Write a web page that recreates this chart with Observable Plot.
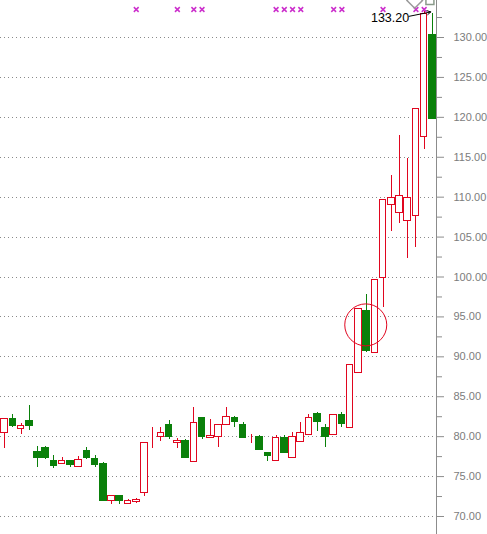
<!DOCTYPE html>
<html>
<head>
<meta charset="utf-8">
<script src="https://cdn.jsdelivr.net/npm/d3@7"></script>
<script src="https://cdn.jsdelivr.net/npm/@observablehq/plot@0.6"></script>
<style>
  html, body { margin: 0; padding: 0; background: #fff; overflow: hidden; }
  #chart svg { display: block; }
</style>
</head>
<body>
<div id="chart"></div>
<script>
// ---- data ----
const opens  = [80.5, 82.2, 80.9, 81.9, 78.1, 78.6, 77.0, 76.6, 76.9, 76.2,
                78.2, 77.2, 76.6, 72.0, 72.6, 71.6, 71.8, 72.9, 80.5, 80.0,
                81.5, 79.2, 79.5, 76.8, 82.3, 79.8, 80.0, 81.5, 82.3, 81.5,
                80.0, 80.0, 78.0, 77.0, 79.8, 77.3, 79.3, 80.2, 82.9, 81.1,
                80.2, 82.7, 81.1, 88.0, 95.8, 90.5, 99.9, 109.0, 108.0, 107.0,
                107.7, 117.5, 130.3];
const highs  = [82.3, 82.8, 81.6, 83.9, 78.75, 78.75, 77.6, 77.4, 77.0, 77.5,
                78.6, 77.7, 76.8, 72.6, 72.6, 72.1, 72.25, 79.2, 81.1, 81.1,
                82.0, 79.8, 79.6, 83.7, 82.4, 82.2, 81.5, 83.7, 82.5, 81.8,
                80.3, 80.2, 78.0, 80.2, 80.2, 80.5, 81.8, 82.8, 83.0, 81.5,
                82.7, 83.0, 89.0, 96.0, 97.8, 99.6, 109.6, 112.75, 117.75, 114.9,
                121.0, 133.2, 133.0];
const lows   = [78.5, 81.1, 80.3, 80.8, 76.2, 77.2, 76.0, 76.5, 76.2, 76.2,
                77.2, 76.2, 72.0, 71.5, 71.5, 71.5, 71.6, 72.5, 78.5, 79.4,
                79.6, 78.5, 77.3, 76.8, 79.6, 79.8, 78.7, 81.5, 81.2, 79.8,
                79.2, 78.3, 76.9, 77.0, 78.0, 77.3, 79.3, 80.2, 80.7, 78.7,
                80.2, 81.1, 81.1, 88.0, 90.6, 90.5, 96.2, 105.75, 106.7, 102.3,
                103.7, 116.0, 119.8];
const closes = [82.2, 81.3, 81.3, 81.3, 77.3, 77.3, 76.3, 76.9, 76.5, 77.1,
                77.3, 76.5, 72.0, 72.6, 72.0, 72.0, 72.1, 79.2, 80.5, 80.5,
                80.0, 79.5, 77.3, 81.7, 80.0, 80.1, 81.5, 82.5, 81.8, 79.8,
                80.0, 78.3, 77.6, 79.8, 78.0, 80.0, 80.5, 82.3, 81.8, 80.0,
                82.7, 81.6, 89.0, 96.0, 90.7, 99.6, 109.6, 109.9, 110.2, 109.9,
                121.0, 133.0, 119.8];

const yTicks      = [70, 75, 80, 85, 90, 95, 100, 105, 110, 115, 120, 125, 130];
const yMinorTicks = [72.5, 77.5, 82.5, 87.5, 92.5, 97.5, 102.5, 107.5, 112.5, 117.5, 122.5, 127.5, 132.5];

// candles carrying a signal marker (0-based candle index)
const signalIdx = [16, 21, 23, 24, 33, 34, 35, 36, 40, 41, 46, 50, 51];

// peak annotation
const peakIdx = 51;
const peakValue = 133.2;
const peakLabel = "133.20";

// highlighted area (circle) : candle index and price
const circleIdx = [43.9];
const circlePrice = [94.0];

// tiny chart-chrome glyphs at the top edge (candle index)
const chromeDiamondIdx = [49.85];
const chromeSquareIdx = [51.7];

// ---- build ----
const UP = "#e0061f";
const DOWN = "#0a800a";
const candles = opens.map((o, i) => ({i, o, h: highs[i], l: lows[i], c: closes[i], up: closes[i] >= o}));
const peak = [{i: peakIdx, v: peakValue, label: peakLabel}];
const circle = circleIdx.map((i, k) => ({i, v: circlePrice[k]}));

const chart = Plot.plot({
  width: 487,
  height: 534,
  marginLeft: 0,
  marginRight: 51,
  marginTop: 0,
  marginBottom: 0,
  style: {fontFamily: "'Liberation Sans', Arial, sans-serif", background: "#fff"},
  x: {domain: [-0.5, 52.5], axis: null},
  y: {domain: [67.745, 134.635], axis: null},
  color: {type: "identity"},
  marks: [
    Plot.ruleY(yTicks, {stroke: "#8a8a8a", strokeDasharray: "1,3", shapeRendering: "crispEdges"}),
    Plot.ruleX(candles, {x: "i", y1: "l", y2: "h", stroke: d => d.up ? UP : DOWN, strokeWidth: 1, shapeRendering: "crispEdges"}),
    Plot.rect(candles, {
      x1: d => d.i - 0.4, x2: d => d.i + 0.4, y1: "o", y2: "c",
      fill: d => d.up ? "#ffffff" : DOWN,
      stroke: d => d.up ? UP : DOWN,
      strokeWidth: 1,
      shapeRendering: "crispEdges"
    }),
    Plot.dot(circle, {x: "i", y: "v", r: 21, stroke: UP, fill: "none", strokeWidth: 1}),
    Plot.ruleX([52.5], {stroke: "#8c8c8c", shapeRendering: "crispEdges"}),
    Plot.axisY(yMinorTicks, {anchor: "right", tickSize: 5, tickFormat: () => "", stroke: "#8c8c8c", label: null}),
    Plot.axisY(yTicks, {
      anchor: "right", tickSize: 7, tickPadding: 10,
      tickFormat: d => d.toFixed(2),
      stroke: "#8c8c8c", fill: "#7c7c7c", fontSize: 11, label: null
    }),
    Plot.dot(signalIdx, {x: d => d, frameAnchor: "top", dy: 9, symbol: "times", r: 2.3, stroke: "#cc2fcc", strokeWidth: 1.5}),
    Plot.dot(chromeDiamondIdx, {x: d => d, frameAnchor: "top", dy: 0, symbol: "diamond2", r: 7, stroke: "#9a9a9a", fill: "none"}),
    Plot.dot(chromeSquareIdx, {x: d => d, frameAnchor: "top", dy: 0, symbol: "square", r: 4.5, stroke: "#8a9a8a", fill: "none"}),
    Plot.arrow(peak, {
      x1: d => d.i - 1.85, y1: d => d.v - 0.55, x2: d => d.i + 0.8, y2: d => d.v,
      stroke: "#000", strokeWidth: 1, headLength: 6, bend: 0
    }),
    Plot.text(peak, {x: "i", y: "v", text: "label", textAnchor: "end", dx: -15, dy: 6.5, fontSize: 12.5, fill: "#000"})
  ]
});
document.getElementById("chart").appendChild(chart);
</script>
</body>
</html>
